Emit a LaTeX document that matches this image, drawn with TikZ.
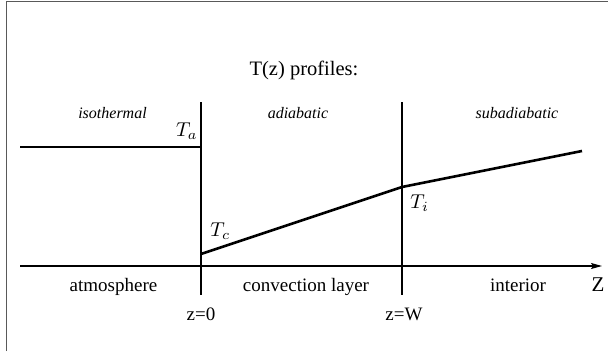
\documentclass[tikz,border=0pt]{standalone}
\usepackage{fontspec}
\setmainfont{Liberation Serif}
\usetikzlibrary{arrows.meta}
\tikzset{
  frameline/.style={draw=black!65, line width=1.5pt},
  axisline/.style={draw=black, line width=1.2pt},
  profile/.style={draw=black, line width=2.6pt},
  regionlbl/.style={inner sep=0pt, anchor=base, font=\fontsize{16}{18}\selectfont\itshape},
  zonelbl/.style={inner sep=0pt, anchor=base, font=\fontsize{19}{22}\selectfont},
  mathlbl/.style={inner sep=0pt, scale=2},
}
\begin{document}
\begin{tikzpicture}[x=1pt,y=-1pt]
\useasboundingbox (0,0) rectangle (608,351);
% frame
\coordinate (fl) at (6.5,351);
\coordinate (fc) at (6.5,1.5);
\coordinate (fr) at (608,1.5);
\draw[frameline] (fl) -- (fc) -- (fr);
% axes
\coordinate (ax0) at (20,266);
\coordinate (ax1) at (602,266);
\draw[axisline, -{Stealth[length=11pt,width=6pt,inset=2pt]}] (ax0) -- (ax1);
\coordinate (v0t) at (201,102);
\coordinate (v0b) at (201,295);
\coordinate (vWt) at (402,102);
\coordinate (vWb) at (402,295);
\draw[axisline] (v0t) -- (v0b);
\draw[axisline] (vWt) -- (vWb);
% profiles
\coordinate (isoL) at (20,147);
\coordinate (isoR) at (201,147);
\coordinate (pc) at (201,254);
\coordinate (pi) at (402,187);
\coordinate (pe) at (582,151);
\draw[profile] (isoL) -- (isoR);
\draw[profile, line join=round] (pc) -- (pi) -- (pe);
% labels
\node[zonelbl, font=\fontsize{20.5}{24}\selectfont] (title) at (304,75) {T(z) profiles:};
\node[regionlbl] (iso) at (112.5,118) {isothermal};
\node[regionlbl] (adi) at (298,118) {adiabatic};
\node[regionlbl] (sub) at (517,118) {subadiabatic};
\node[mathlbl, anchor=base east] (Ta) at (198,136) {$T_a$};
\node[mathlbl, anchor=base west] (Tc) at (210,236) {$T_c$};
\node[mathlbl, anchor=base west] (Ti) at (410,208) {$T_i$};
\node[zonelbl] (atm) at (113.5,291) {atmosphere};
\node[zonelbl] (conv) at (306,291) {convection layer};
\node[zonelbl] (int) at (518,291) {interior};
\node[zonelbl, font=\fontsize{21}{24}\selectfont] (Z) at (598,291) {Z};
\node[zonelbl] (z0) at (201,320) {z=0};
\node[zonelbl] (zW) at (404,320) {z=W};
\end{tikzpicture}
\end{document}
